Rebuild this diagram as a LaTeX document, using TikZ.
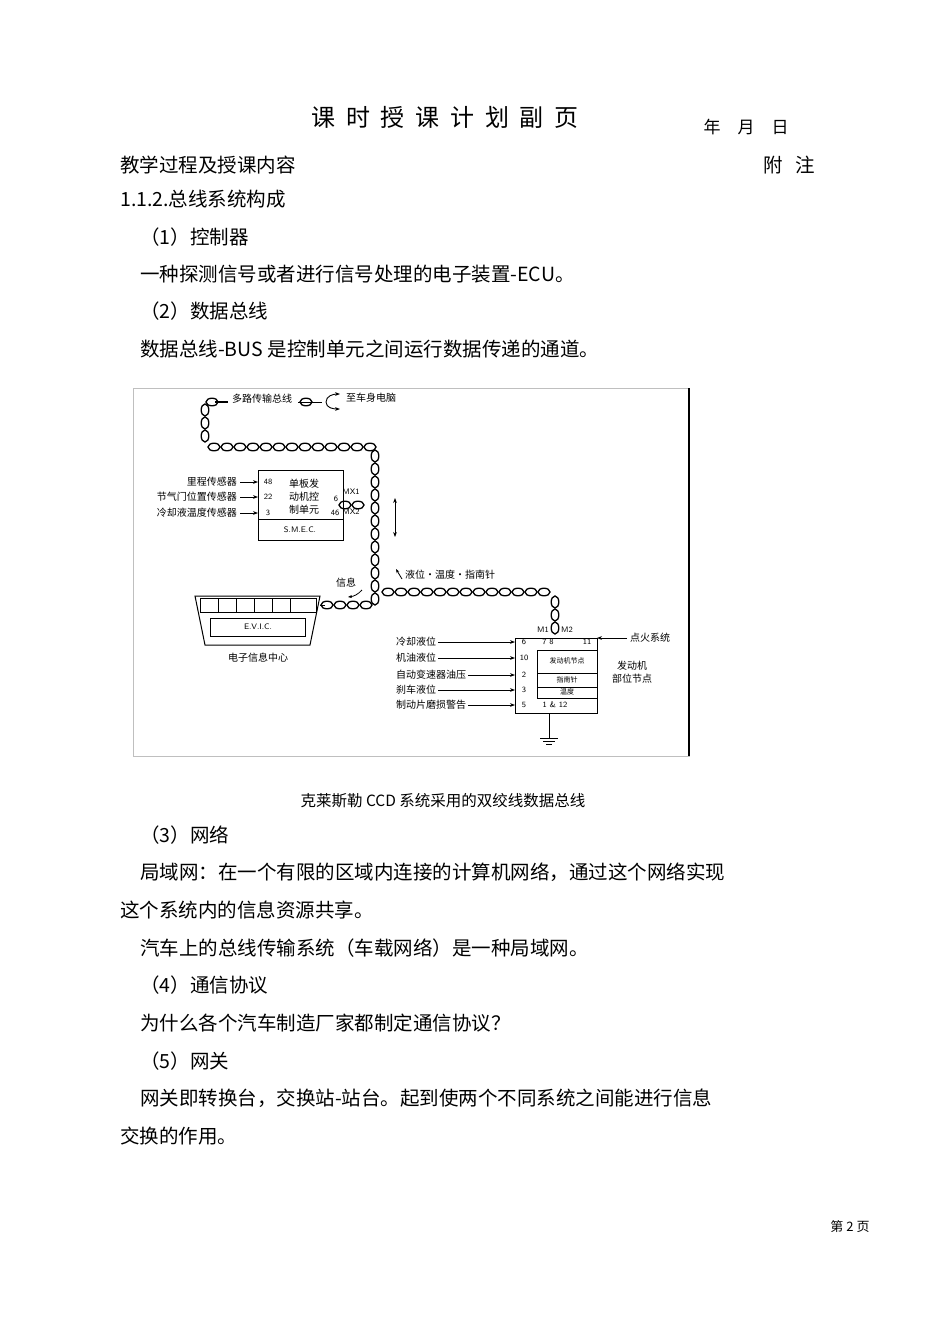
\documentclass[tikz,border=0pt]{standalone}
\usepackage{fontspec}
\setmainfont{Liberation Serif}
\newfontfamily\cjk{Noto Sans CJK SC}
\usetikzlibrary{arrows.meta}
\begin{document}
\begin{tikzpicture}[x=1pt,y=-1pt,
  body/.style={anchor=west,inner sep=0,font=\cjk\fontsize{19.5}{22}\selectfont},
  small/.style={inner sep=0,font=\cjk\fontsize{10}{11}\selectfont},
  pin/.style={inner sep=0,font=\sffamily\fontsize{8}{9}\selectfont},
  chain/.style={line width=1.3pt},
  inarr/.style={-{Stealth[length=5pt]},line width=0.8pt}]
\useasboundingbox (0,0) rectangle (950,1318);
\newcommand\chH[3]{\pgfmathtruncatemacro\nn{(#2-#1)/13}\foreach \i in {0,...,\nn}{\draw[chain] (#1+13*\i,#3) ellipse [x radius=6pt,y radius=3.8pt];}}
\newcommand\chV[3]{\pgfmathtruncatemacro\nn{(#2-#1)/13}\foreach \i in {0,...,\nn}{\draw[chain] (#3,#1+13*\i) ellipse [x radius=3.8pt,y radius=6pt];}}
% header
\node[inner sep=0,font=\cjk\fontsize{24}{26}\selectfont] (title) at (445,117) {课\ \ 时\ \ 授\ \ 课\ \ 计\ \ 划\ \ 副\ \ 页};
\node[inner sep=0,font=\cjk\fontsize{17}{20}\selectfont] (date) at (746,127) {年\quad 月\quad 日};
\node[body] (h1) at (120,165) {教学过程及授课内容};
\node[body] (h2) at (763,165) {附\ \ \ 注};
\node[body] (l1) at (120,199) {1.1.2.总线系统构成};
\node[body] (l2) at (140,237) {（1）控制器};
\node[body] (l3) at (140,274) {一种探测信号或者进行信号处理的电子装置-ECU。};
\node[body] (l4) at (140,311) {（2）数据总线};
\node[body] (l5) at (140,349) {数据总线-BUS 是控制单元之间运行数据传递的通道。};
% figure frame
\draw[gray!50,line width=0.6pt] (133,388) rectangle (689,756);
\draw[line width=2pt] (689,388) -- (689,756);
% chains
\draw[chain] (215,402) -- (228,402);
\chH{212}{224}{402}
\node[small,anchor=west] (bus) at (232,399) {多路传输总线};
\chH{306}{316}{402}
\draw[line width=0.9pt] (298,402) -- (322,402);
\draw[line width=0.9pt,-{Stealth[length=5pt]}] (326,402) to[out=90,in=180] (340,394);
\draw[line width=0.9pt,-{Stealth[length=5pt]}] (326,402) to[out=-90,in=180] (340,409);
\node[small,anchor=west] (body) at (346,398) {至车身电脑};
\chV{410}{440}{205}
\chH{214}{370}{447}
\chV{456}{600}{375}
\chH{345}{362}{505}
\chH{388}{548}{592}
\chV{602}{628}{555}
\chH{327}{368}{605}
\draw[line width=0.8pt] (320,605) -- (325,605);
% SMEC
\node[draw,line width=1pt,minimum width=85,minimum height=70,inner sep=0] (smec) at (300.5,505) {};
\draw[line width=0.8pt] (258,519) -- (343,519);
\node[pin] at (300,530) {S.M.E.C.};
\node[small,align=center,font=\cjk\fontsize{10}{13}\selectfont] (smecu) at (304,497) {单板发\\动机控\\制单元};
\foreach \y/\p/\t in {482/48/里程传感器,497/22/节气门位置传感器,513/3/冷却液温度传感器}{
  \node[small,anchor=east] (s\p) at (237,\y) {\t};
  \draw[inarr] (s\p.east)++(3,0) -- (258,\y);
  \node[pin] at (268,\y) {\p};}
\node[pin] at (336,499) {6};\node[pin] at (335,513) {46};
\node[pin] at (351,492) {MX1};\node[pin] at (351,512) {MX2};
\draw[line width=0.8pt,{Stealth[length=5pt]}-{Stealth[length=5pt]}] (395,498) -- (395,537);
% labels
\node[small,anchor=west] (liq) at (405,575) {液位·温度·指南针};
\draw[line width=0.8pt,-{Stealth[length=4pt]}] (402,579) -- (396,569);
\node[small] (info) at (346,583) {信息};
\draw[line width=0.8pt,-{Stealth[length=4pt]}] (362,590) to[bend left=20] (348,597);
% EVIC
\draw[line width=1pt] (195,596) -- (320,596) -- (310,645) -- (205,645) -- cycle;
\draw[line width=0.8pt] (200,598) rectangle (316,612);
\foreach \x in {218,236,254,272,290}{\draw (\x,598) -- (\x,612);}
\node[draw,line width=0.8pt,minimum width=95,minimum height=18,pin] (evic) at (258,627) {E.V.I.C.};
\node[small] (evl) at (258,658) {电子信息中心};
% engine node
\node[draw,line width=1pt,minimum width=82,minimum height=75,inner sep=0] (eng) at (556,676) {};
\node[pin] at (543,630) {M1};\node[pin] at (567,630) {M2};
\node[pin] at (524,642) {6};\node[pin] at (548,642) {7 8};\node[pin] at (587,642) {11};
\draw[line width=0.8pt] (537,650) -- (597,650);
\draw[line width=0.8pt] (537,650) -- (537,698) -- (597,698);
\node[small,font=\cjk\fontsize{7}{8}\selectfont] at (567,661) {发动机节点};
\draw[line width=0.8pt] (537,673) -- (597,673);
\node[small,font=\cjk\fontsize{7}{8}\selectfont] at (567,680) {指南针};
\draw[line width=0.8pt] (537,687) -- (597,687);
\node[small,font=\cjk\fontsize{7}{8}\selectfont] at (567,692) {温度};
\node[pin] at (555,705) {1 \& 12};
\foreach \y/\p/\t in {642/a/冷却液位,658/b/机油液位,675/c/自动变速器油压,690/d/刹车液位,705/e/制动片磨损警告}{
  \node[small,anchor=west] (e\p) at (396,\y) {\t};
  \draw[inarr] (e\p.east)++(2,0) -- (515,\y);}
\node[pin] at (524,658) {10};\node[pin] at (524,675) {2};\node[pin] at (524,690) {3};\node[pin] at (524,705) {5};
\node[small,anchor=west] (ign) at (630,638) {点火系统};
\draw[inarr] (ign.west)++(-3,0) -- (597,638);
\node[small,align=center,font=\cjk\fontsize{10}{13}\selectfont] (engl) at (632,672) {发动机\\部位节点};
\draw[line width=0.9pt] (549,713) -- (549,738);
\draw[line width=0.9pt] (540,738) -- (558,738) (543,741) -- (555,741) (546,744) -- (552,744);
% caption and rest
\node[inner sep=0,font=\cjk\fontsize{15.5}{18}\selectfont] (cap) at (443,801) {克莱斯勒 CCD 系统采用的双绞线数据总线};
\node[body] at (140,835) {（3）网络};
\node[body] at (140,872) {局域网：在一个有限的区域内连接的计算机网络，通过这个网络实现};
\node[body] at (120,910) {这个系统内的信息资源共享。};
\node[body] at (140,948) {汽车上的总线传输系统（车载网络）是一种局域网。};
\node[body] at (140,985) {（4）通信协议};
\node[body] at (140,1023) {为什么各个汽车制造厂家都制定通信协议？};
\node[body] at (140,1061) {（5）网关};
\node[body] at (140,1098) {网关即转换台，交换站-站台。起到使两个不同系统之间能进行信息};
\node[body] at (120,1136) {交换的作用。};
\node[inner sep=0,font=\cjk\fontsize{13}{15}\selectfont] (pg) at (850,1227) {第 2 页};
\end{tikzpicture}
\end{document}
